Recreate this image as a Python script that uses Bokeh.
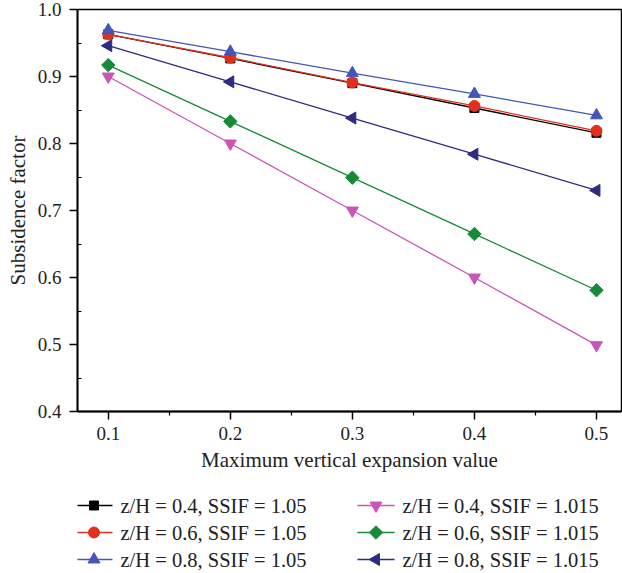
from bokeh.plotting import figure
from bokeh.models import Range1d, FixedTicker, NumeralTickFormatter
from bokeh.layouts import column
from bokeh.embed import file_html
from bokeh.resources import INLINE
from bokeh.core.properties import value
import math

x_vals = [0.1, 0.2, 0.3, 0.4, 0.5]
s_z04_105 = [0.963, 0.927, 0.890, 0.853, 0.816]
s_z06_105 = [0.963, 0.928, 0.891, 0.856, 0.819]
s_z08_105 = [0.969, 0.937, 0.905, 0.874, 0.842]
s_z04_1015 = [0.900, 0.800, 0.700, 0.600, 0.499]
s_z06_1015 = [0.917, 0.833, 0.749, 0.665, 0.581]
s_z08_1015 = [0.946, 0.892, 0.838, 0.784, 0.730]

labels = ["z/H = 0.4, SSIF = 1.05", "z/H = 0.6, SSIF = 1.05", "z/H = 0.8, SSIF = 1.05",
          "z/H = 0.4, SSIF = 1.015", "z/H = 0.6, SSIF = 1.015", "z/H = 0.8, SSIF = 1.015"]
x_ticks = [0.1, 0.2, 0.3, 0.4, 0.5]
y_ticks = [0.4, 0.5, 0.6, 0.7, 0.8, 0.9, 1.0]

series = [s_z04_105, s_z06_105, s_z08_105, s_z04_1015, s_z06_1015, s_z08_1015]
colors = ["#000000", "#e2301f", "#4655b8", "#c955b8", "#168a38", "#2e2b82"]
markers = ["square", "circle", "triangle", "inverted_triangle", "square", "triangle"]
angles = [0, 0, 0, 0, math.pi / 4, math.pi / 2]
sizes = [9, 11, 12, 12, 9.5, 12]

FONT = "Liberation Serif"
TXT = "#222222"

# ---------------- main chart ----------------
p = figure(width=622, height=480, output_backend="svg", toolbar_location=None,
           x_range=Range1d(0.0748, 0.5205), y_range=Range1d(0.4, 1.0),
           min_border_left=77, min_border_right=1, min_border_top=9, min_border_bottom=69)
p.grid.visible = False
p.outline_line_color = "#000000"
p.outline_line_width = 1.5

order = [3, 4, 5, 0, 1, 2]
for i in order:
    p.line(x_vals, series[i], line_color=colors[i], line_width=1.3)
    p.scatter(x_vals, series[i], marker=markers[i], size=sizes[i], angle=angles[i],
              fill_color=colors[i], line_color=colors[i])

xa = p.xaxis[0]
ya = p.yaxis[0]
xa.ticker = FixedTicker(ticks=x_ticks, minor_ticks=[0.15, 0.25, 0.35, 0.45])
ya.ticker = FixedTicker(ticks=y_ticks, minor_ticks=[0.45, 0.55, 0.65, 0.75, 0.85, 0.95])
ya.formatter = NumeralTickFormatter(format="0.0")
xa.formatter = NumeralTickFormatter(format="0.0")
for ax in (xa, ya):
    ax.axis_line_width = 1.8
    ax.major_tick_line_width = 1.5
    ax.minor_tick_line_width = 1.2
    ax.major_label_text_font = FONT
    ax.major_label_text_font_size = "19px"
    ax.major_label_text_color = TXT
    ax.axis_label_text_font = FONT
    ax.axis_label_text_font_size = "21px"
    ax.axis_label_text_font_style = "normal"
    ax.axis_label_text_color = TXT
xa.major_tick_out = 8
xa.major_tick_in = 0
xa.minor_tick_out = 4
xa.minor_tick_in = 0
ya.major_tick_out = 8
ya.major_tick_in = 0
ya.minor_tick_out = 0
ya.minor_tick_in = 4
xa.major_label_standoff = 7
ya.major_label_standoff = 8
xa.axis_label = "Maximum vertical expansion value"
ya.axis_label = "Subsidence factor"
xa.axis_label_standoff = 5
ya.axis_label_standoff = 5

# ---------------- legend panel ----------------
# the column layout aligns this panel's frame with the chart frame (x 77..621),
# so the x range is set to those pixel positions to place entries in page pixels
lg = figure(width=622, height=93, output_backend="svg", toolbar_location=None,
            x_range=Range1d(77, 621), y_range=Range1d(93, 0),
            x_axis_location=None, y_axis_location=None,
            min_border=0, min_border_left=77, min_border_right=1,
            min_border_top=0, min_border_bottom=0)
lg.grid.visible = False
lg.outline_line_color = None

col_x0 = [75, 357]      # start of legend line sample for each column
row_y = [25, 52, 79]    # vertical centre of each row
sample_w = 37
text_gap = 8
for k in range(6):
    c, r = divmod(k, 3)
    x0 = col_x0[c]
    y = row_y[r]
    lg.line([x0, x0 + sample_w], [y, y], line_color=colors[k], line_width=1.3)
    lg.scatter([x0 + sample_w / 2], [y], marker=markers[k], size=sizes[k], angle=angles[k],
               fill_color=colors[k], line_color=colors[k])
    lg.text([x0 + sample_w + text_gap], [y], text=[labels[k]], text_font=value(FONT),
            text_font_size="20.5px", text_color=TXT, text_baseline="middle",
            text_align="left")

layout = column(p, lg, spacing=0)
open("out.html", "w").write(file_html(layout, INLINE))
